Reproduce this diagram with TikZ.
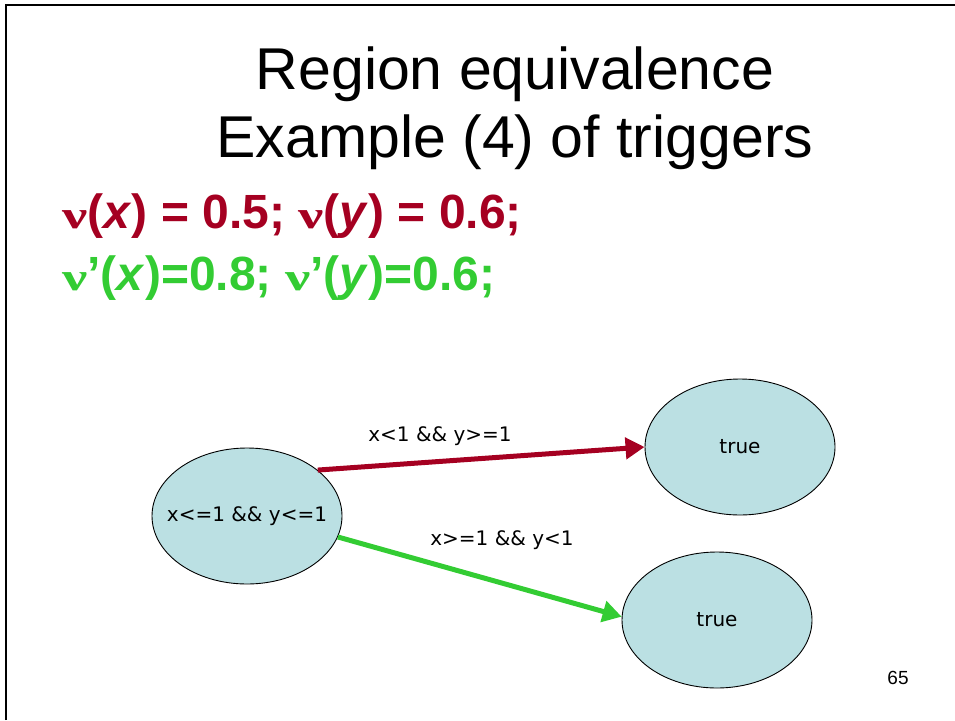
\documentclass[tikz,border=0pt]{standalone}
\usepackage{graphicx}
\usepackage{fontspec}
\setmainfont{Liberation Sans}
\newfontfamily\grk{Liberation Serif}
\newfontfamily\lbl{DejaVu Sans}
\usetikzlibrary{arrows.meta,shapes.geometric}
\definecolor{dred}{RGB}{165,0,33}
\definecolor{lgreen}{RGB}{51,204,51}
\definecolor{stfill}{RGB}{187,224,227}
\newcommand\mynu{{\grk\bfseries\fontsize{39}{40}\selectfont\scalebox{1.45}[1]{ν}}}
\tikzset{
  state/.style={ellipse, draw=black, line width=0.9pt, fill=stfill, minimum width=190pt, minimum height=136pt, inner sep=-30pt, font=\lbl\fontsize{20}{24}\selectfont},
  trans/.style={line width=5pt, -{Triangle[length=19pt,width=21pt]}},
  elabel/.style={font=\lbl\fontsize{20}{24}\selectfont, anchor=base},
  bigtext/.style={anchor=base west, inner sep=0pt, font=\bfseries\fontsize{48}{56}\selectfont},
}
\begin{document}
\begin{tikzpicture}[x=1pt,y=-1pt]
\useasboundingbox (0,0) rectangle (955,720);
\draw[line width=2.5pt] (6,720) -- (6,5) -- (955,5);
\node[anchor=base, font=\fontsize{59}{68}\selectfont] (t1) at (515,89) {Region equivalence};
\node[anchor=base, font=\fontsize{59}{68}\selectfont] (t2) at (515,157) {Example (4) of triggers};
\node[bigtext, text=dred] (l1) at (62,228) {\mynu(\textit{x}) = 0.5; \mynu(\textit{y}) = 0.6;};
\node[bigtext, text=lgreen] (l2) at (62,290) {\mynu’(\textit{x})=0.8; \mynu’(\textit{y})=0.6;};
\node[state] (a) at (247,516) {x<=1 \&\& y<=1};
\node[state] (b) at (740,447) {true};
\node[state] (c) at (717,620) {true};
\draw[trans, draw=dred, fill=dred] (a.33) -- (b.180);
\draw[trans, draw=lgreen, fill=lgreen] (a.-13) -- (c.178);
\node[elabel] (lab1) at (440,441) {x<1 \&\& y>=1};
\node[elabel] (lab2) at (502,545) {x>=1 \&\& y<1};
\node[anchor=base, font=\fontsize{19}{22}\selectfont] (pg) at (898,684) {65};
\end{tikzpicture}
\end{document}
